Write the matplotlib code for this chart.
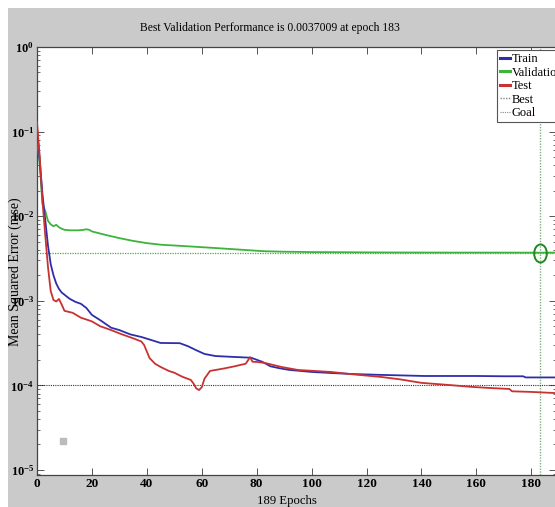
import matplotlib
matplotlib.use("Agg")
import matplotlib.pyplot as plt
import matplotlib.patches as mpatches
from matplotlib.path import Path
from matplotlib.transforms import Affine2D
from matplotlib.ticker import FixedLocator, LogLocator, NullFormatter

# ---------------- data ----------------
train_epochs = [0, 1, 2, 3, 4, 5, 6, 7, 8, 9, 10, 11, 12, 14, 16, 18, 20, 23, 27, 30,
                34, 38, 42, 45, 52, 55, 58, 61, 65, 70, 74, 78, 82, 85, 88, 92, 96, 100,
                107, 115, 125, 133, 141, 150, 160, 170, 177, 178, 189]
train_mse = [0.11, 0.045, 0.018, 0.009, 0.0045, 0.0027, 0.0020, 0.0016, 0.00138, 0.00125,
             0.00118, 0.00111, 0.00105, 0.00097, 0.00092, 0.00082, 0.00068, 0.00059, 0.00048,
             0.00045, 0.00040, 0.000373, 0.00034, 0.000317, 0.000315, 0.00029, 0.00026,
             0.000235, 0.000222, 0.000218, 0.000215, 0.000212, 0.00019, 0.000168, 0.000160,
             0.000152, 0.000148, 0.000144, 0.000140, 0.000136, 0.000133, 0.000131, 0.000129,
             0.000129, 0.000129, 0.000128, 0.000128, 0.000124, 0.000124]

val_epochs = [0, 1, 2, 3, 4, 5, 6, 7, 8, 9, 10, 12, 15, 17, 18, 19, 20, 25, 30, 35, 40, 45,
              50, 55, 60, 65, 70, 75, 80, 83, 90, 96, 100, 110, 121, 130, 150, 170, 183, 189]
val_mse = [0.09, 0.04, 0.014, 0.0115, 0.0088, 0.0080, 0.0076, 0.0079, 0.0074, 0.0071, 0.0069,
           0.0068, 0.0068, 0.0069, 0.0070, 0.0069, 0.0066, 0.0060, 0.0055, 0.0051, 0.0048,
           0.0046, 0.0045, 0.0044, 0.0043, 0.0042, 0.0041, 0.0040, 0.0039, 0.00385, 0.00380,
           0.00378, 0.00376, 0.00375, 0.00373, 0.00372, 0.00371, 0.00371, 0.0037009, 0.00371]

test_epochs = [0, 1, 2, 3, 4, 5, 6, 7, 8, 9, 10, 13, 16, 18, 20, 23, 27, 31, 35, 38, 39, 41,
               43, 45, 48, 50, 53, 56, 57, 58, 59, 60, 61, 63, 68, 72, 74, 76, 77.6, 78.5, 80,
               83, 89, 95, 107, 115, 125, 132, 140, 150, 158, 165, 172, 173, 180, 189]
test_mse = [0.13, 0.05, 0.015, 0.006, 0.0025, 0.0013, 0.00102, 0.00098, 0.00105, 0.0009,
            0.00076, 0.00072, 0.00063, 0.00060, 0.00057, 0.00050, 0.00045, 0.00040, 0.00036,
            0.00033, 0.00030, 0.00021, 0.00018, 0.000165, 0.000148, 0.000141, 0.000126,
            0.000116, 0.000105, 0.000092, 0.000088, 0.000095, 0.000120, 0.000148, 0.000158,
            0.000168, 0.000174, 0.000180, 0.000215, 0.00019, 0.000189, 0.000184, 0.000165,
            0.000152, 0.000144, 0.000135, 0.000126, 0.000118, 0.000107, 0.000101, 0.000096,
            0.000093, 0.0000906, 0.000085, 0.0000836, 0.000081]

best_epoch = 183
best_perf = 0.0037009
goal = 1e-4
n_epochs = 189
artifact_x = [9.5]
artifact_y = [2.2e-5]

x_ticks = [0, 20, 40, 60, 80, 100, 120, 140, 160, 180]
y_ticks = [1e-5, 1e-4, 1e-3, 1e-2, 1e-1, 1e0]
y_tick_labels = [r"$\mathbf{10^{-5}}$", r"$\mathbf{10^{-4}}$", r"$\mathbf{10^{-3}}$",
                 r"$\mathbf{10^{-2}}$", r"$\mathbf{10^{-1}}$", r"$\mathbf{10^{0}}$"]

# ---------------- style ----------------
plt.rcParams["font.family"] = ["Liberation Serif", "DejaVu Serif"]
plt.rcParams["mathtext.fontset"] = "custom"
plt.rcParams["mathtext.rm"] = "Liberation Serif"
plt.rcParams["mathtext.bf"] = "Liberation Serif:bold"

W, H = 555, 507
fig = plt.figure(figsize=(W / 100, H / 100), dpi=100, facecolor="white")
fig.patches.append(mpatches.Rectangle((8 / W, 0), 1, 1 - 8 / H, transform=fig.transFigure,
                                      facecolor="#cacaca", edgecolor="none", zorder=-10))

left, right, top, bottom = 37, 556, 47, 475
aw, ah = right - left, bottom - top
ax = fig.add_axes([left / W, 1 - bottom / H, aw / W, ah / H])
ax.set_facecolor("white")

c_train = "#2e2eaa"
c_val = "#3cb43c"
c_test = "#c83232"

ellipse = Path.unit_circle().transformed(Affine2D().scale(0.7, 1.0))

ax.plot(train_epochs, train_mse, color=c_train, lw=1.3, label="Train", zorder=4)
ax.plot(val_epochs, val_mse, color=c_val, lw=1.3, label="Validation", zorder=3)
ax.plot(test_epochs, test_mse, color=c_test, lw=1.3, label="Test", zorder=5)
ax.axhline(best_perf, color=c_val, lw=0.9, ls=(0, (1, 1)), zorder=2)
ax.axvline(best_epoch, color="#7fb07f", lw=1.0, ls=(0, (1, 1)), label="Best", zorder=2)
ax.axhline(goal, color="#333333", lw=0.8, ls=(0, (1, 1)), label="Goal", zorder=2)
ax.plot([best_epoch], [best_perf], marker=ellipse, ms=13, mfc="none", mec="#1f8a1f", mew=1.4,
        ls="none", zorder=6)
ax.plot(artifact_x, artifact_y, marker="s", ms=4, color="#bbbbbb", ls="none", zorder=1)

ax.set_yscale("log")
ax.set_xlim(0, n_epochs)
ax.set_ylim(10 ** -5.06, 1.0)

ax.xaxis.set_major_locator(FixedLocator(x_ticks))
ax.set_xticklabels([str(t) for t in x_ticks], fontweight="bold", fontsize=9.5)
ax.yaxis.set_major_locator(FixedLocator(y_ticks))
ax.set_yticklabels(y_tick_labels, fontsize=9)
ax.yaxis.set_minor_locator(LogLocator(base=10, subs=range(2, 10), numticks=20))
ax.yaxis.set_minor_formatter(NullFormatter())
ax.tick_params(which="major", direction="in", length=5, width=0.7, color="#555555",
               top=True, right=True, pad=2)
ax.tick_params(which="minor", direction="in", length=2.5, width=0.6, color="#555555",
               right=True)
for s in ax.spines.values():
    s.set_color("#444444")
    s.set_linewidth(0.9)

ax.text((270 - left) / aw, (bottom - 28) / ah,
        "Best Validation Performance is 0.0037009 at epoch 183",
        transform=ax.transAxes, ha="center", va="center", fontsize=8.4)
ax.set_xlabel("189 Epochs", fontsize=9.2)
ax.xaxis.set_label_coords((287 - left) / aw, (bottom - 501) / ah)
ax.xaxis.label.set_va("center")
ax.set_ylabel("Mean Squared Error (mse)", fontsize=10)
ax.yaxis.set_label_coords((15 - left) / aw, (bottom - 272) / ah)
ax.yaxis.label.set_va("center")

leg = ax.legend(loc="upper left", bbox_to_anchor=((497 - left) / aw, (bottom - 50) / ah),
                fontsize=9, handlelength=0.75, handletextpad=0.15, labelspacing=0.12,
                borderpad=0.25, borderaxespad=0, fancybox=False, framealpha=1,
                edgecolor="#555555")
leg.get_frame().set_linewidth(0.8)
for h in leg.get_lines()[:3]:
    h.set_linewidth(2.2)
for h in leg.get_lines()[3:]:
    h.set_color("#888888")

fig.savefig("out.png", dpi=100, facecolor=fig.get_facecolor())
